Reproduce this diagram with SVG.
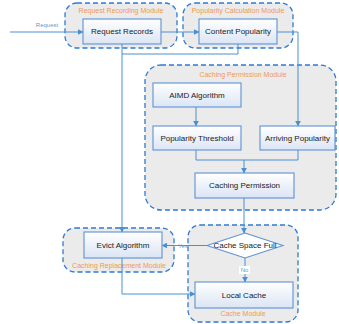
<svg xmlns="http://www.w3.org/2000/svg" width="339" height="324" viewBox="0 0 339 324">
  <defs>
    <linearGradient id="boxFill" x1="0" y1="0" x2="0" y2="1">
      <stop offset="0" stop-color="#ffffff"/>
      <stop offset="1" stop-color="#dbe5f4"/>
    </linearGradient>
    <marker id="arrow" viewBox="0 0 10 10" refX="9" refY="5" markerWidth="6" markerHeight="6" orient="auto" markerUnits="userSpaceOnUse">
      <path d="M0,0 L10,5 L0,10 z" fill="#4a8fd6"/>
    </marker>
    <style>
      .module { fill: #ebebeb; stroke: #2e7bd0; stroke-width: 1.3; stroke-dasharray: 5 3; }
      .mtitle { font-family: "Liberation Sans", Arial, sans-serif; font-size: 7px; fill: #ef9a55; text-anchor: middle; }
      .box { fill: url(#boxFill); stroke: #5d93d3; stroke-width: 1.1; }
      .label { font-family: "Liberation Sans", Arial, sans-serif; font-size: 8px; fill: #1a1a1a; text-anchor: middle; dominant-baseline: central; }
      .edge { fill: none; stroke: #4a8fd6; stroke-width: 1; }
      .elabel { font-family: "Liberation Sans", Arial, sans-serif; font-size: 6px; fill: #6f95c8; text-anchor: middle; dominant-baseline: central; }
    </style>
  </defs>

  <rect width="339" height="324" fill="#ffffff"/>

  <!-- module containers -->
  <g id="request-recording-module">
    <rect class="module" x="65" y="3" width="112" height="45" rx="12"/>
    <text class="mtitle" x="121" y="13">Request Recording Module</text>
  </g>
  <g id="popularity-calculation-module">
    <rect class="module" x="183" y="3" width="110" height="45" rx="12"/>
    <text class="mtitle" x="238" y="13">Popularity Calculation Module</text>
  </g>
  <g id="caching-permission-module">
    <rect class="module" x="145" y="65" width="191" height="145" rx="16"/>
    <text class="mtitle" x="243" y="77">Caching Permission Module</text>
  </g>
  <g id="caching-replacement-module">
    <rect class="module" x="63" y="228" width="111" height="44" rx="12"/>
    <text class="mtitle" x="119" y="268">Caching Replacement Module</text>
  </g>
  <g id="cache-module">
    <rect class="module" x="188" y="225" width="110" height="97" rx="12"/>
    <text class="mtitle" x="243" y="316">Cache  Module</text>
  </g>

  <!-- connectors -->
  <g id="connectors">
    <path class="edge" d="M10,32 H83" marker-end="url(#arrow)"/>
    <path class="edge" d="M161,32 H199" marker-end="url(#arrow)"/>
    <path class="edge" d="M122,44 V232" marker-end="url(#arrow)"/>
    <path class="edge" d="M238,44 V54 H122"/>
    <path class="edge" d="M277,32 H298 V126" marker-end="url(#arrow)"/>
    <path class="edge" d="M196,107 V126" marker-end="url(#arrow)"/>
    <path class="edge" d="M196,150 V160 H298 V150"/>
    <path class="edge" d="M244,160 V173" marker-end="url(#arrow)"/>
    <path class="edge" d="M244,198 V233" marker-end="url(#arrow)"/>
    <path class="edge" d="M207,245.5 H162" marker-end="url(#arrow)"/>
    <path class="edge" d="M245,258 V282" marker-end="url(#arrow)"/>
    <path class="edge" d="M122,258 V294 H195" marker-end="url(#arrow)"/>
    <text class="elabel" x="47" y="25">Request</text>
    <text class="elabel" x="183" y="245.5">Yes</text>
    <rect x="239" y="266" width="11" height="8" fill="#ffffff"/>
    <text class="elabel" x="244.5" y="270">No</text>
  </g>

  <!-- process nodes -->
  <g id="request-records">
    <rect class="box" x="83" y="19" width="78" height="25"/>
    <text class="label" x="122" y="31.5">Request Records</text>
  </g>
  <g id="content-popularity">
    <rect class="box" x="199" y="19" width="78" height="25"/>
    <text class="label" x="238" y="31.5">Content Popularity</text>
  </g>
  <g id="aimd-algorithm">
    <rect class="box" x="153" y="83" width="88" height="24"/>
    <text class="label" x="197" y="95">AIMD Algorithm</text>
  </g>
  <g id="popularity-threshold">
    <rect class="box" x="153" y="126" width="88" height="24"/>
    <text class="label" x="197" y="138">Popularity Threshold</text>
  </g>
  <g id="arriving-popularity">
    <rect class="box" x="260" y="126" width="75" height="24"/>
    <text class="label" x="297.5" y="138">Arriving Popularity</text>
  </g>
  <g id="caching-permission">
    <rect class="box" x="195" y="173" width="99" height="25"/>
    <text class="label" x="244.5" y="185.5">Caching Permission</text>
  </g>
  <g id="cache-space-full">
    <polygon class="box" points="245,233 283,245.5 245,258 207,245.5" style="fill:#ffffff"/>
    <text class="label" x="245" y="245.5">Cache Space Full</text>
  </g>
  <g id="evict-algorithm">
    <rect class="box" x="84" y="232" width="78" height="26"/>
    <text class="label" x="123" y="245">Evict Algorithm</text>
  </g>
  <g id="local-cache">
    <rect class="box" x="195" y="282" width="98" height="26"/>
    <text class="label" x="244" y="295">Local Cache</text>
  </g>
</svg>
